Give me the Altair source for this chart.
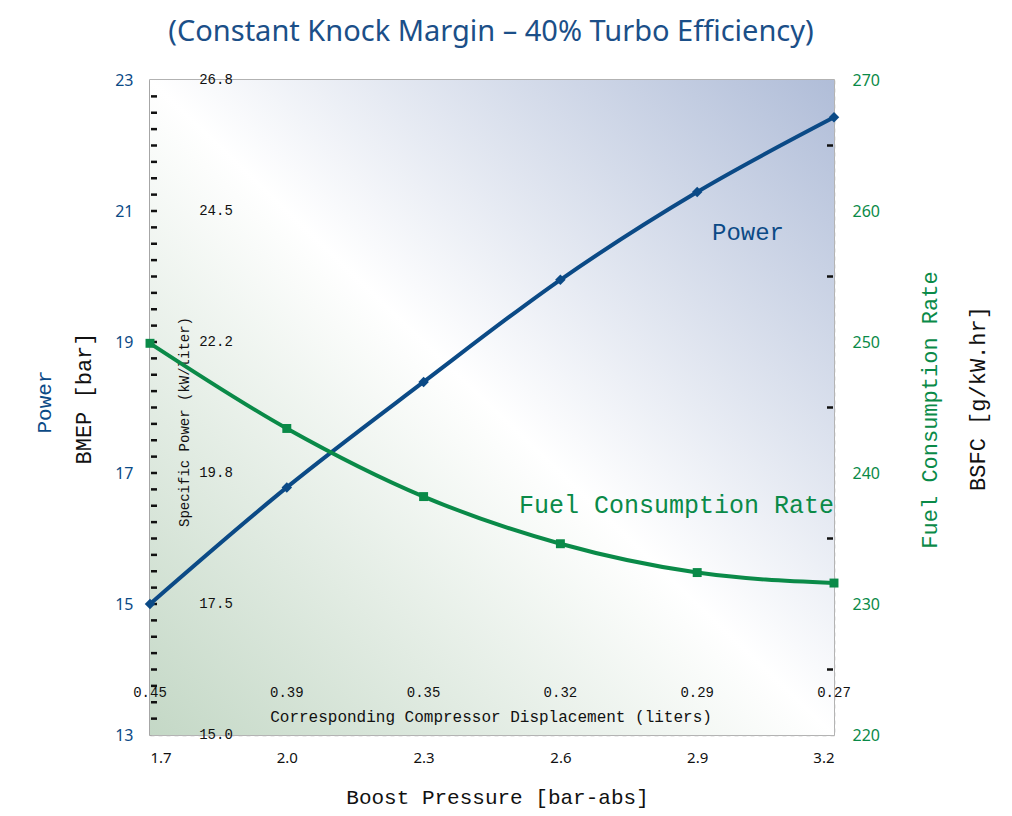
import altair as alt
import pandas as pd

# ---------------- data ----------------
boost = [1.7, 2.0, 2.3, 2.6, 2.9, 3.2]
bmep_power = [15.0, 16.78, 18.39, 19.95, 21.29, 22.43]
bsfc_fuel = [249.9, 243.4, 238.2, 234.6, 232.4, 231.6]
displacement = ["0.45", "0.39", "0.35", "0.32", "0.29", "0.27"]

bmep_ticks = [13, 15, 17, 19, 21, 23]
specific_power = ["15.0", "17.5", "19.8", "22.2", "24.5", "26.8"]
bsfc_ticks = [220, 230, 240, 250, 260, 270]
bmep_minor = [13 + 0.25 * i for i in range(1, 40)]
bsfc_inner = [225, 235, 245, 255, 265]

BLUE = "#0b4a86"
GREEN = "#0a8a48"
MONO = "Liberation Mono"
SANS = "Noto Sans"

X = alt.Scale(domain=[1.7, 3.2], nice=False)
YL = alt.Scale(domain=[13, 23], nice=False)
YR = alt.Scale(domain=[220, 270], nice=False)

df = pd.DataFrame({"boost": boost, "bmep": bmep_power, "bsfc": bsfc_fuel,
                   "disp": displacement})
bg_df = pd.DataFrame({"x": [1.7], "x2": [3.2], "y": [13], "y2": [23]})
sp_df = pd.DataFrame({"bmep": bmep_ticks, "label": specific_power})
minor_df = pd.DataFrame({"bmep": bmep_minor})
rminor_df = pd.DataFrame({"bsfc": bsfc_inner})

# background gradient
bg = alt.Chart(bg_df).mark_rect(
    fill=alt.Gradient(
        gradient="linear",
        stops=[alt.GradientStop(color="#c4d8c6", offset=0),
               alt.GradientStop(color="#ffffff", offset=0.5),
               alt.GradientStop(color="#b0bdd8", offset=1)],
        x1=0, y1=1, x2=1, y2=0),
).encode(
    x=alt.X("x:Q", scale=X, axis=alt.Axis(
        values=boost, format=".1f", grid=True, gridDash=[4, 4], gridColor="#b5b5b5",
        gridWidth=1.5, ticks=False, domain=False, labelFont=SANS, labelFontSize=15,
        labelColor="#111", labelPadding=15,
        title="Boost Pressure [bar-abs]", titleFont=MONO, titleFontSize=21,
        titleFontWeight="normal", titleColor="#111", titleX=347, titleY=68,
        titleBaseline="alphabetic")),
    x2="x2:Q",
    y=alt.Y("y:Q", scale=YL, axis=alt.Axis(
        values=bmep_ticks, format="d", grid=True, gridDash=[4, 4], gridColor="#b5b5b5",
        gridWidth=1.5, ticks=False, domain=True, domainColor="#999",
        domainWidth=2, labelFont=SANS, labelFontSize=16, labelColor=BLUE,
        labelPadding=17,
        title="BMEP [bar]", titleFont=MONO, titleFontSize=22,
        titleFontWeight="normal", titleColor="#111", titleAngle=270,
        titleX=-67, titleY=318, titleAlign="center", titleBaseline="middle")),
    y2="y2:Q",
)

minor = alt.Chart(minor_df).mark_rule(color="#111", strokeWidth=2.5).encode(
    x=alt.value(1), x2=alt.value(7), y=alt.Y("bmep:Q", scale=YL))

power_line = alt.Chart(df).mark_line(
    color=BLUE, strokeWidth=4, interpolate="monotone").encode(
    x=alt.X("boost:Q", scale=X), y=alt.Y("bmep:Q", scale=YL))
power_pts = alt.Chart(df).mark_point(
    shape="diamond", filled=True, color=BLUE, size=110, opacity=1).encode(
    x=alt.X("boost:Q", scale=X), y=alt.Y("bmep:Q", scale=YL))

sp_labels = alt.Chart(sp_df).mark_text(
    font=MONO, fontSize=14, color="#111", baseline="middle").encode(
    x=alt.value(66), y=alt.Y("bmep:Q", scale=YL), text="label:N")

disp_labels = alt.Chart(df).mark_text(
    font=MONO, fontSize=14, color="#111", baseline="middle").encode(
    x=alt.X("boost:Q", scale=X), y=alt.value(613), text="disp:N")

spec_title = alt.Chart(pd.DataFrame({"t": ["Specific Power (kW/liter)"]})).mark_text(
    font=MONO, fontSize=14, color="#111", angle=270, baseline="middle").encode(
    x=alt.value(35), y=alt.value(342), text="t:N")

corr_title = alt.Chart(pd.DataFrame({"t": ["Corresponding Compressor Displacement (liters)"]})).mark_text(
    font=MONO, fontSize=16, color="#111", baseline="middle").encode(
    x=alt.value(341), y=alt.value(637), text="t:N")

power_lbl = alt.Chart(pd.DataFrame({"t": ["Power"]})).mark_text(
    font=MONO, fontSize=24, color=BLUE, baseline="middle").encode(
    x=alt.value(598), y=alt.value(153), text="t:N")

fuel_lbl = alt.Chart(pd.DataFrame({"t": ["Fuel Consumption Rate"]})).mark_text(
    font=MONO, fontSize=25, color=GREEN, baseline="middle", align="left").encode(
    x=alt.value(369), y=alt.value(425), text="t:N")

power_axis_lbl = alt.Chart(pd.DataFrame({"t": ["Power"]})).mark_text(
    font=MONO, fontSize=21, color=BLUE, angle=270, baseline="middle").encode(
    x=alt.value(-105), y=alt.value(322), text="t:N")

fuel_axis_lbl = alt.Chart(pd.DataFrame({"t": ["Fuel Consumption Rate"]})).mark_text(
    font=MONO, fontSize=22, color=GREEN, angle=270, baseline="middle").encode(
    x=alt.value(780), y=alt.value(330), text="t:N")

title = alt.Chart(pd.DataFrame({"t": ["(Constant Knock Margin – 40% Turbo Efficiency)"]})).mark_text(
    font=SANS, fontSize=29, color="#1b4f88", baseline="alphabetic").encode(
    x=alt.value(341), y=alt.value(-39), text="t:N")

left = alt.layer(bg, minor, sp_labels, disp_labels, spec_title, corr_title,
                 power_line, power_pts, power_lbl, fuel_lbl, power_axis_lbl,
                 fuel_axis_lbl, title)

fuel_line = alt.Chart(df).mark_line(
    color=GREEN, strokeWidth=4, interpolate="monotone").encode(
    x=alt.X("boost:Q", scale=X),
    y=alt.Y("bsfc:Q", scale=YR, axis=alt.Axis(
        orient="right", values=bsfc_ticks, grid=False, ticks=False, domain=False,
        labelFont=SANS, labelFontSize=16, labelColor=GREEN, labelPadding=18,
        title="BSFC [g/kW.hr]", titleFont=MONO, titleFontSize=22,
        titleFontWeight="normal", titleColor="#111", titleAngle=270,
        titleX=143, titleY=318, titleAlign="center", titleBaseline="middle")))
fuel_pts = alt.Chart(df).mark_point(
    shape="square", filled=True, color=GREEN, size=80, opacity=1).encode(
    x=alt.X("boost:Q", scale=X), y=alt.Y("bsfc:Q", scale=YR))
rminor = alt.Chart(rminor_df).mark_rule(color="#111", strokeWidth=2.5).encode(
    x=alt.value(677), x2=alt.value(683), y=alt.Y("bsfc:Q", scale=YR))

right = alt.layer(rminor, fuel_line, fuel_pts)

chart = alt.layer(left, right).resolve_scale(y="independent").properties(
    width=684, height=655,
    autosize=alt.AutoSizeParams(type="none"),
    padding={"left": 142, "top": 72, "right": 170, "bottom": 73},
    background="white",
).configure_view(stroke="#999", strokeWidth=1.5)

chart.save("out.html", embed_options={"renderer": "svg", "actions": False})
